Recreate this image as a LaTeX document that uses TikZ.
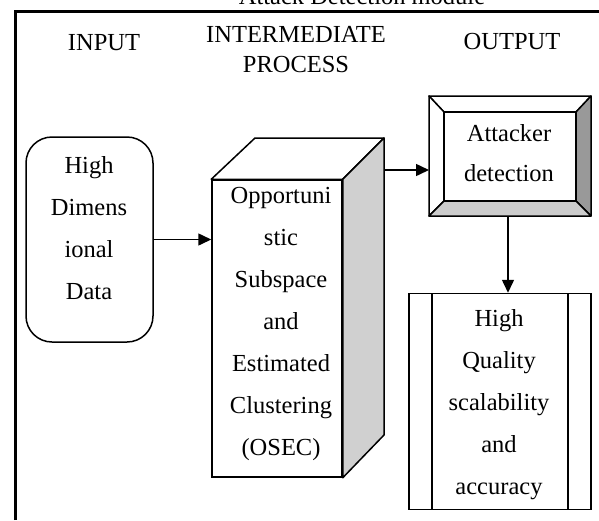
\documentclass[tikz,border=0pt]{standalone}
\usepackage{fontspec}
\setmainfont{Liberation Serif}
\usetikzlibrary{arrows.meta}
\tikzset{
  lbl/.style={anchor=base, inner sep=0pt, font=\fontsize{24.5}{42}\selectfont},
  boxline/.style={draw=black, line width=1.5pt},
  conn/.style={line width=1.5pt, -{Triangle[length=13pt,width=12pt]}},
}
\newcommand{\lines}[1]{\begin{tabular}[t]{@{}c@{}}#1\end{tabular}}
\begin{document}
\begin{tikzpicture}[x=1pt,y=-1pt]
\useasboundingbox (0,0) rectangle (599,520);
% frame
\coordinate (fbl) at (15.5,520);
\coordinate (ftl) at (15.5,11);
\coordinate (ftr) at (599,11);
\draw[line width=3pt] (fbl) -- (ftl) -- (ftr);
% headings
\node[lbl] (title) at (362,4) {Attack Detection module};
\node[lbl] (hin) at (104,50) {INPUT};
\node[lbl, font=\fontsize{24.5}{30}\selectfont] (hmid) at (296,42) {\lines{INTERMEDIATE\\PROCESS}};
\node[lbl] (hout) at (512,49) {OUTPUT};
% input box
\node[boxline, rounded corners=26pt, minimum width=127pt, minimum height=205pt, inner sep=0pt] (inbox) at (89.5,239.5) {};
\node[lbl] (intext) at (89,173) {\lines{High\\Dimens\\ional\\Data}};
% 3D box
\node[boxline, fill=white, minimum width=130pt, minimum height=297pt, inner sep=0pt] (osec) at (277,328.5) {};
\coordinate (tbl) at (255,138);
\coordinate (tbr) at (384,138);
\coordinate (bbr) at (384,435);
\draw[boxline, fill=white, line join=round] (osec.north west) -- (tbl) -- (tbr) -- (osec.north east) -- cycle;
\draw[boxline, fill={rgb,255:red,208;green,208;blue,208}, line join=round] (osec.north east) -- (tbr) -- (bbr) -- (osec.south east) -- cycle;
\node[lbl] (osectext) at (281,203) {\lines{Opportuni\\stic\\Subspace\\and\\Estimated\\Clustering\\(OSEC)}};
% attacker box (bevel)
\coordinate (ao1) at (429,96);
\coordinate (ao2) at (591,96);
\coordinate (ao3) at (591,216);
\coordinate (ao4) at (429,216);
\coordinate (ai1) at (444,112);
\coordinate (ai2) at (576,112);
\coordinate (ai3) at (576,201);
\coordinate (ai4) at (444,201);
\draw[boxline, fill=white, line join=round] (ao1) -- (ao2) -- (ai2) -- (ai1) -- cycle;
\draw[boxline, fill=white, line join=round] (ao1) -- (ai1) -- (ai4) -- (ao4) -- cycle;
\draw[boxline, fill={rgb,255:red,153;green,153;blue,153}, line join=round] (ao2) -- (ao3) -- (ai3) -- (ai2) -- cycle;
\draw[boxline, fill={rgb,255:red,204;green,204;blue,204}, line join=round] (ao4) -- (ai4) -- (ai3) -- (ao3) -- cycle;
\node[boxline, fill=white, minimum width=132pt, minimum height=89pt, inner sep=0pt] (att) at (510,156.5) {};
\node[lbl, font=\fontsize{24.5}{40}\selectfont] (atttext) at (509,141) {\lines{Attacker\\detection}};
% output box
\node[boxline, minimum width=182pt, minimum height=216pt, inner sep=0pt] (outbox) at (500,401.5) {};
\coordinate (ol1) at (432,293.5);
\coordinate (ol2) at (432,509.5);
\coordinate (or1) at (568,293.5);
\coordinate (or2) at (568,509.5);
\draw[boxline] (ol1) -- (ol2);
\draw[boxline] (or1) -- (or2);
\node[lbl] (outtext) at (499,326) {\lines{High\\Quality\\scalability\\and\\accuracy}};
% connectors
\draw[conn] (inbox.east) -- (osec.west |- inbox.east);
\coordinate (s2) at (384,170);
\draw[conn] (s2) -- (s2 -| ao1);
\coordinate (s3) at (508,216);
\draw[conn] (s3) -- (s3 |- outbox.north);
\end{tikzpicture}
\end{document}
